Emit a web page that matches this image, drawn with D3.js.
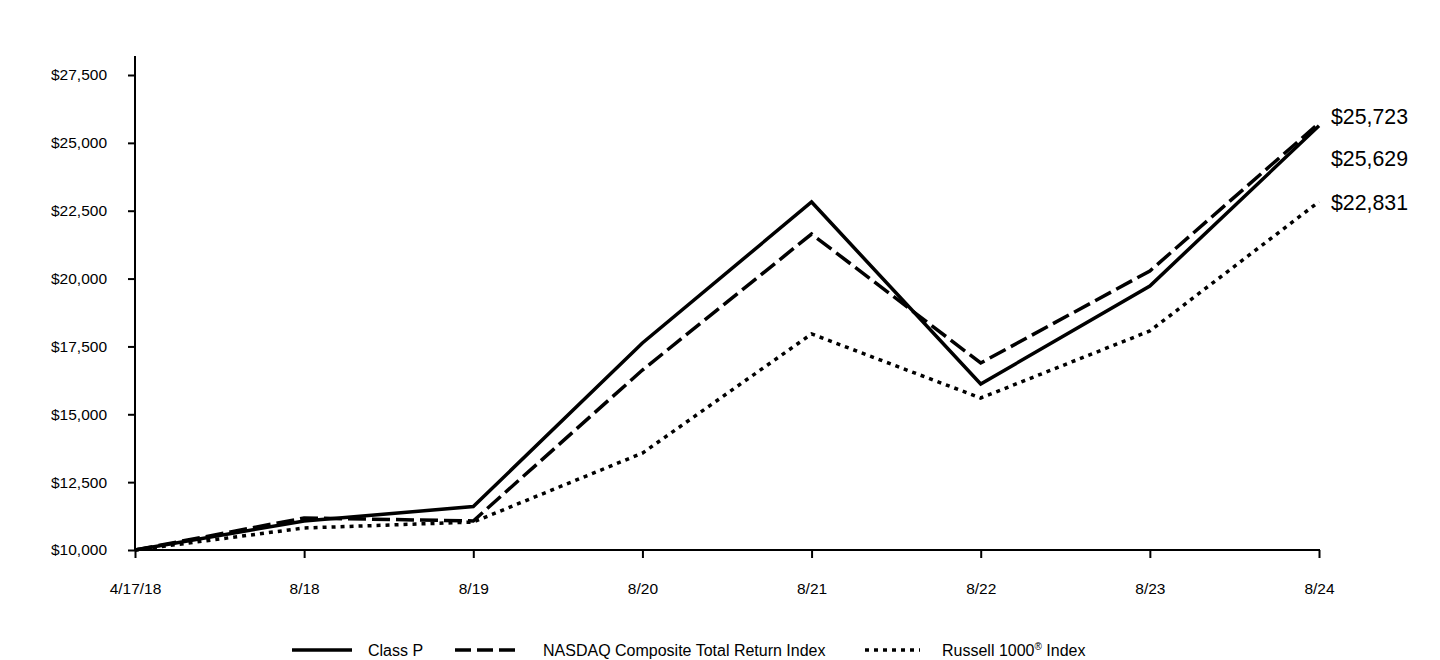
<!DOCTYPE html>
<html><head><meta charset="utf-8">
<script src="https://cdn.jsdelivr.net/npm/d3@7"></script>
<style>body{margin:0;background:#fff}svg{display:block}text{font-family:"Liberation Sans",Arial,sans-serif;fill:#000}</style>
</head><body><svg id="c" width="1440" height="660"></svg>
<script>
const categories = ["4/17/18","8/18","8/19","8/20","8/21","8/22","8/23","8/24"];
const classP = [10000,11070,11600,17626,22820,16115,19726,25629];
const nasdaq = [10000,11180,11070,16630,21640,16890,20280,25723];
const russell = [10000,10810,11030,13570,17960,15600,18070,22831];
const yTicks = [10000,12500,15000,17500,20000,22500,25000,27500];
const endLabels = ["$25,723","$25,629","$22,831"];
const seriesNames = ["Class P","NASDAQ Composite Total Return Index","Russell 1000® Index"];

const svg = d3.select("#c");
const x = d3.scalePoint().domain(categories).range([135,1319]);
const y = d3.scaleLinear().domain([10000,27500]).range([550,75]);

const fmt = d => "$" + d3.format(",")(d);
const yAxis = svg.append("g").attr("transform","translate(135,0)")
  .call(d3.axisLeft(y).tickValues(yTicks).tickFormat(fmt).tickSize(7).tickSizeOuter(0).tickPadding(21));
yAxis.select(".domain").remove();
yAxis.selectAll("line").attr("stroke","#000").attr("stroke-width",2);
yAxis.selectAll("text").attr("font-size",15.5).attr("font-family","Liberation Sans, Arial, sans-serif");
svg.append("line").attr("x1",135).attr("x2",135).attr("y1",56).attr("y2",551).attr("stroke","#000").attr("stroke-width",2);

const xAxis = svg.append("g").attr("transform","translate(0,550)")
  .call(d3.axisBottom(x).tickSize(8).tickSizeOuter(0).tickPadding(25));
xAxis.select(".domain").remove();
xAxis.selectAll("line").attr("stroke","#000").attr("stroke-width",2);
xAxis.selectAll("text").attr("font-size",15.5).attr("font-family","Liberation Sans, Arial, sans-serif");
svg.append("line").attr("x1",134).attr("x2",1320).attr("y1",550).attr("y2",550).attr("stroke","#000").attr("stroke-width",2);

const styles = [
  {data: classP, dash: null},
  {data: nasdaq, dash: "18,6"},
  {data: russell, dash: "4,5"}
];
const line = d3.line().x((d,i)=>x(categories[i])).y(d=>y(d));
styles.forEach(s=>{
  svg.append("path").attr("d",line(s.data)).attr("fill","none").attr("stroke","#000")
    .attr("stroke-width",3.5).attr("stroke-dasharray",s.dash).attr("stroke-linejoin","miter");
});

[117,159,203].forEach((yy,i)=>{
  svg.append("text").attr("x",1331).attr("y",yy).attr("dy","0.35em").attr("font-size",21.3).text(endLabels[i]);
});

const leg = [
  {x1:292,x2:352,tx:368,dash:null},
  {x1:455,x2:515,tx:543,dash:"16,6"},
  {x1:865,x2:920,tx:942,dash:"4,5"}
];
leg.forEach((l,i)=>{
  svg.append("line").attr("x1",l.x1).attr("x2",l.x2).attr("y1",650).attr("y2",650)
    .attr("stroke","#000").attr("stroke-width",3.5).attr("stroke-dasharray",l.dash);
  const t = svg.append("text").attr("x",l.tx).attr("y",655.5).attr("font-size",16);
  if(i===2){
    t.append("tspan").text("Russell 1000");
    t.append("tspan").attr("font-size",10).attr("dy",-6).text("®");
    t.append("tspan").attr("dy",6).text(" Index");
  } else t.text(seriesNames[i]);
});
</script></body></html>
